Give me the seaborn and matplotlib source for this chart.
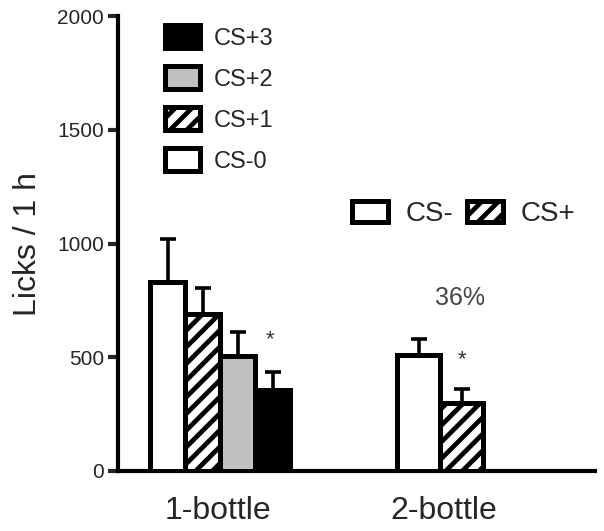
import numpy as np
import pandas as pd
import matplotlib
matplotlib.use("Agg")
import matplotlib.pyplot as plt
import seaborn as sns
from matplotlib.patches import Patch

# one-bottle test, 4 CS
one_labels = ["CS-0", "CS+1", "CS+2", "CS+3"]
one_means = [830, 690, 505, 355]
one_sem = [190, 115, 105, 80]

# two-bottle choice test
two_labels = ["CS-", "CS+"]
two_means = [510, 300]
two_sem = [72, 62]

group_labels = ["1-bottle", "2-bottle"]
pct_text = "36%"

sns.set_style("white")
plt.rcParams["font.family"] = ["Liberation Sans", "DejaVu Sans"]
plt.rcParams["hatch.linewidth"] = 3.4
plt.rcParams["hatch.color"] = "black"

fills = {"CS-0": "white", "CS+1": "white", "CS+2": "#c0c0c0", "CS+3": "black",
         "CS-": "white", "CS+": "white"}
hatches = {"CS-0": "", "CS+1": "//", "CS+2": "", "CS+3": "",
           "CS-": "", "CS+": "//"}

fig = plt.figure(figsize=(6.04, 5.31), dpi=100)
ax = fig.add_axes([118 / 604, 60 / 531, (595 - 118) / 604, 455 / 531])

one_x = np.arange(4) * 1.0
two_x = np.array([7.171, 8.4])

df1 = pd.DataFrame({"x": one_x, "y": one_means, "label": one_labels})
df2 = pd.DataFrame({"x": two_x, "y": two_means, "label": two_labels})

for d in (df1, df2):
    n0 = len(ax.patches)
    sns.barplot(data=d, x="x", y="y", native_scale=True, width=1.0,
                color="white", edgecolor="black", linewidth=3.6,
                errorbar=None, ax=ax, zorder=3)
    for p, lab in zip(ax.patches[n0:], d["label"]):
        p.set_facecolor(fills[lab])
        p.set_hatch(hatches[lab])

ax.errorbar(one_x, one_means, yerr=[np.zeros(4), one_sem], fmt="none",
            ecolor="black", elinewidth=2.6, capsize=5.5, capthick=2.6, zorder=2)
ax.errorbar(two_x, two_means, yerr=[np.zeros(2), two_sem], fmt="none",
            ecolor="black", elinewidth=2.6, capsize=5.5, capthick=2.6, zorder=2)

# significance marks
ax.text(2.93, 576, "*", ha="center", va="center", fontsize=16, color="#333333")
ax.text(8.41, 488, "*", ha="center", va="center", fontsize=16, color="#333333")
ax.text(8.36, 760, pct_text, ha="center", va="center", fontsize=18, color="#444444")

ax.set_xlim(-1.414, 12.21)
ax.set_ylim(0, 2000)
ax.set_yticks([0, 500, 1000, 1500, 2000])
ax.set_xticks([1.45, 7.9])
ax.set_xticklabels(group_labels, fontsize=23)
ax.tick_params(axis="x", length=0, pad=18)
ax.tick_params(axis="y", direction="out", length=7, width=3, pad=3,
               labelsize=15, left=True)
ax.set_xlabel("")
ax.set_ylabel("Licks / 1 h", fontsize=23, labelpad=10)

sns.despine(ax=ax)
for s in ("left", "bottom"):
    ax.spines[s].set_linewidth(3)
    ax.spines[s].set_color("black")

# left legend (CS+3 on top)
h1 = [Patch(facecolor=fills[l], edgecolor="black", linewidth=3.6, hatch=hatches[l])
      for l in one_labels[::-1]]
leg1 = fig.legend(h1, one_labels[::-1], loc="upper left",
                  bbox_to_anchor=(165 / 604, 1 - 25 / 531), frameon=False,
                  borderpad=0, borderaxespad=0, fontsize=17, handlelength=1.5,
                  handleheight=1.15, labelspacing=0.69, handletextpad=0.55)

# right legend (2-bottle)
h2 = [Patch(facecolor=fills[l], edgecolor="black", linewidth=3.6, hatch=hatches[l])
      for l in two_labels]
leg2 = fig.legend(h2, two_labels, loc="upper left", ncol=2,
                  bbox_to_anchor=(352 / 604, 1 - 201 / 531), frameon=False,
                  borderpad=0, borderaxespad=0, fontsize=20, handlelength=1.28,
                  handleheight=0.8, handletextpad=0.65, columnspacing=0.5)

fig.savefig("out.png", dpi=100)
